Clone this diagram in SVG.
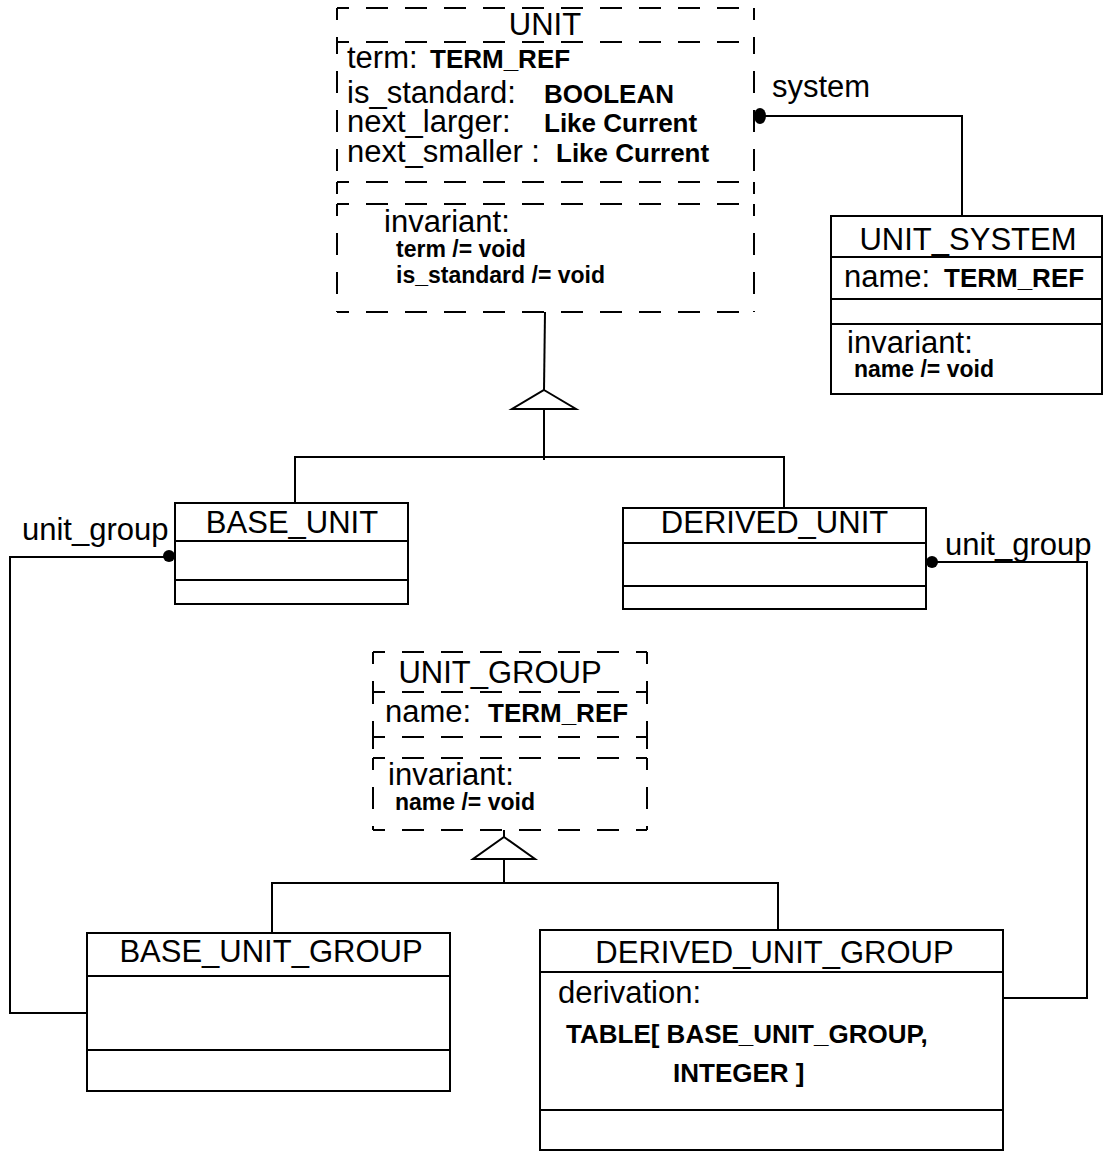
<svg xmlns="http://www.w3.org/2000/svg" width="1104" height="1151" viewBox="0 0 1104 1151">
<style>
text{font-family:"Liberation Sans",Arial,Helvetica,sans-serif;fill:#000}
.t{font-size:31px}
.r{font-size:31px}
.b{font-size:26px;font-weight:bold}
.s{font-size:23px;font-weight:bold}
.solid{fill:none;stroke:#000;stroke-width:2}
.d{fill:none;stroke:#000;stroke-width:2;stroke-dasharray:22 17;stroke-dashoffset:10}
.c{fill:none;stroke:#000;stroke-width:2}
.tri{fill:#fff;stroke:#000;stroke-width:2;stroke-linejoin:miter}
.dot{fill:#000}
</style>
<rect x="0" y="0" width="1104" height="1151" fill="#fff"/>

<g id="connectors">
  <!-- UNIT generalization -->
  <polyline class="c" points="545,312 544,390"/>
  <polyline class="c" points="544,409 544,460"/>
  <polyline class="c" points="295,503 295,457 784,457 784,508"/>
  <polygon class="tri" points="544,390 576,409 512,409"/>
  <!-- UNIT_GROUP generalization -->
  <polyline class="c" points="504,830 504,837"/>
  <polyline class="c" points="504,859 504,883"/>
  <polyline class="c" points="272,933 272,883 778,883 778,930"/>
  <polygon class="tri" points="504,837 535,859 473,859"/>
  <!-- system association -->
  <polyline class="c" points="761,116 962,116 962,216"/>
  <ellipse class="dot" cx="760" cy="116" rx="6" ry="8"/>
  <text class="r" x="772" y="97">system</text>
  <!-- BASE_UNIT unit_group -->
  <polyline class="c" points="169,557 10,557 10,1013 87,1013"/>
  <circle class="dot" cx="169" cy="556" r="6"/>
  <text class="r" x="22" y="540">unit_group</text>
  <!-- DERIVED_UNIT unit_group -->
  <polyline class="c" points="932,562 1087,562 1087,998 1003,998"/>
  <circle class="dot" cx="932" cy="562" r="6"/>
  <text class="r" x="945" y="555">unit_group</text>
</g>

<g id="UNIT">
  <line class="d" x1="337" y1="8" x2="754" y2="8"/>
  <line class="d" x1="337" y1="42" x2="754" y2="42"/>
  <line class="d" x1="337" y1="182" x2="754" y2="182"/>
  <line class="d" x1="337" y1="204" x2="754" y2="204"/>
  <line class="d" x1="337" y1="312" x2="754" y2="312"/>
  <line class="d" x1="337" y1="8" x2="337" y2="42"/>
  <line class="d" x1="337" y1="42" x2="337" y2="182"/>
  <line class="d" x1="337" y1="182" x2="337" y2="204"/>
  <line class="d" x1="337" y1="204" x2="337" y2="312"/>
  <line class="d" x1="754" y1="8" x2="754" y2="42"/>
  <line class="d" x1="754" y1="42" x2="754" y2="182"/>
  <line class="d" x1="754" y1="182" x2="754" y2="204"/>
  <line class="d" x1="754" y1="204" x2="754" y2="312"/>
  <text class="t" x="545" y="35" text-anchor="middle">UNIT</text>
  <text class="r" x="347" y="68">term:</text>
  <text class="b" x="430" y="68">TERM_REF</text>
  <text class="r" x="347" y="103">is_standard:</text>
  <text class="b" x="544" y="103">BOOLEAN</text>
  <text class="r" x="347" y="132">next_larger:</text>
  <text class="b" x="544" y="132">Like Current</text>
  <text class="r" x="347" y="162">next_smaller :</text>
  <text class="b" x="556" y="162">Like Current</text>
  <text class="r" x="384" y="232">invariant:</text>
  <text class="s" x="396" y="257">term /= void</text>
  <text class="s" x="396" y="283">is_standard /= void</text>
</g>

<g id="UNIT_SYSTEM">
  <rect class="solid" x="831" y="216" width="271" height="178"/>
  <line class="solid" x1="831" y1="257" x2="1102" y2="257"/>
  <line class="solid" x1="831" y1="299" x2="1102" y2="299"/>
  <line class="solid" x1="831" y1="324" x2="1102" y2="324"/>
  <text class="t" x="968" y="250" text-anchor="middle">UNIT_SYSTEM</text>
  <text class="r" x="844" y="287">name:</text>
  <text class="b" x="944" y="287">TERM_REF</text>
  <text class="r" x="847" y="353">invariant:</text>
  <text class="s" x="854" y="377">name /= void</text>
</g>

<g id="BASE_UNIT">
  <rect class="solid" x="175" y="503" width="233" height="101"/>
  <line class="solid" x1="175" y1="541" x2="408" y2="541"/>
  <line class="solid" x1="175" y1="580" x2="408" y2="580"/>
  <text class="t" x="292" y="533" text-anchor="middle">BASE_UNIT</text>
</g>

<g id="DERIVED_UNIT">
  <rect class="solid" x="623" y="508" width="303" height="101"/>
  <line class="solid" x1="623" y1="543" x2="926" y2="543"/>
  <line class="solid" x1="623" y1="586" x2="926" y2="586"/>
  <text class="t" x="774.5" y="533" text-anchor="middle">DERIVED_UNIT</text>
</g>

<g id="UNIT_GROUP">
  <line class="d" x1="373" y1="652" x2="647" y2="652"/>
  <line class="d" x1="373" y1="692" x2="647" y2="692"/>
  <line class="d" x1="373" y1="737" x2="647" y2="737"/>
  <line class="d" x1="373" y1="758" x2="647" y2="758"/>
  <line class="d" x1="373" y1="830" x2="647" y2="830"/>
  <line class="d" x1="373" y1="652" x2="373" y2="692"/>
  <line class="d" x1="373" y1="692" x2="373" y2="737"/>
  <line class="d" x1="373" y1="737" x2="373" y2="758"/>
  <line class="d" x1="373" y1="758" x2="373" y2="830"/>
  <line class="d" x1="647" y1="652" x2="647" y2="692"/>
  <line class="d" x1="647" y1="692" x2="647" y2="737"/>
  <line class="d" x1="647" y1="737" x2="647" y2="758"/>
  <line class="d" x1="647" y1="758" x2="647" y2="830"/>
  <text class="t" x="500" y="683" text-anchor="middle">UNIT_GROUP</text>
  <text class="r" x="385" y="722">name:</text>
  <text class="b" x="488" y="722">TERM_REF</text>
  <text class="r" x="388" y="785">invariant:</text>
  <text class="s" x="395" y="810">name /= void</text>
</g>

<g id="BASE_UNIT_GROUP">
  <rect class="solid" x="87" y="933" width="363" height="158"/>
  <line class="solid" x1="87" y1="976" x2="450" y2="976"/>
  <line class="solid" x1="87" y1="1050" x2="450" y2="1050"/>
  <text class="t" x="271" y="962" text-anchor="middle">BASE_UNIT_GROUP</text>
</g>

<g id="DERIVED_UNIT_GROUP">
  <rect class="solid" x="540" y="930" width="463" height="220"/>
  <line class="solid" x1="540" y1="972" x2="1003" y2="972"/>
  <line class="solid" x1="540" y1="1110" x2="1003" y2="1110"/>
  <text class="t" x="774.5" y="963" text-anchor="middle">DERIVED_UNIT_GROUP</text>
  <text class="r" x="558" y="1003">derivation:</text>
  <text class="b" x="566" y="1043">TABLE[ BASE_UNIT_GROUP,</text>
  <text class="b" x="673" y="1082">INTEGER ]</text>
</g>
</svg>
